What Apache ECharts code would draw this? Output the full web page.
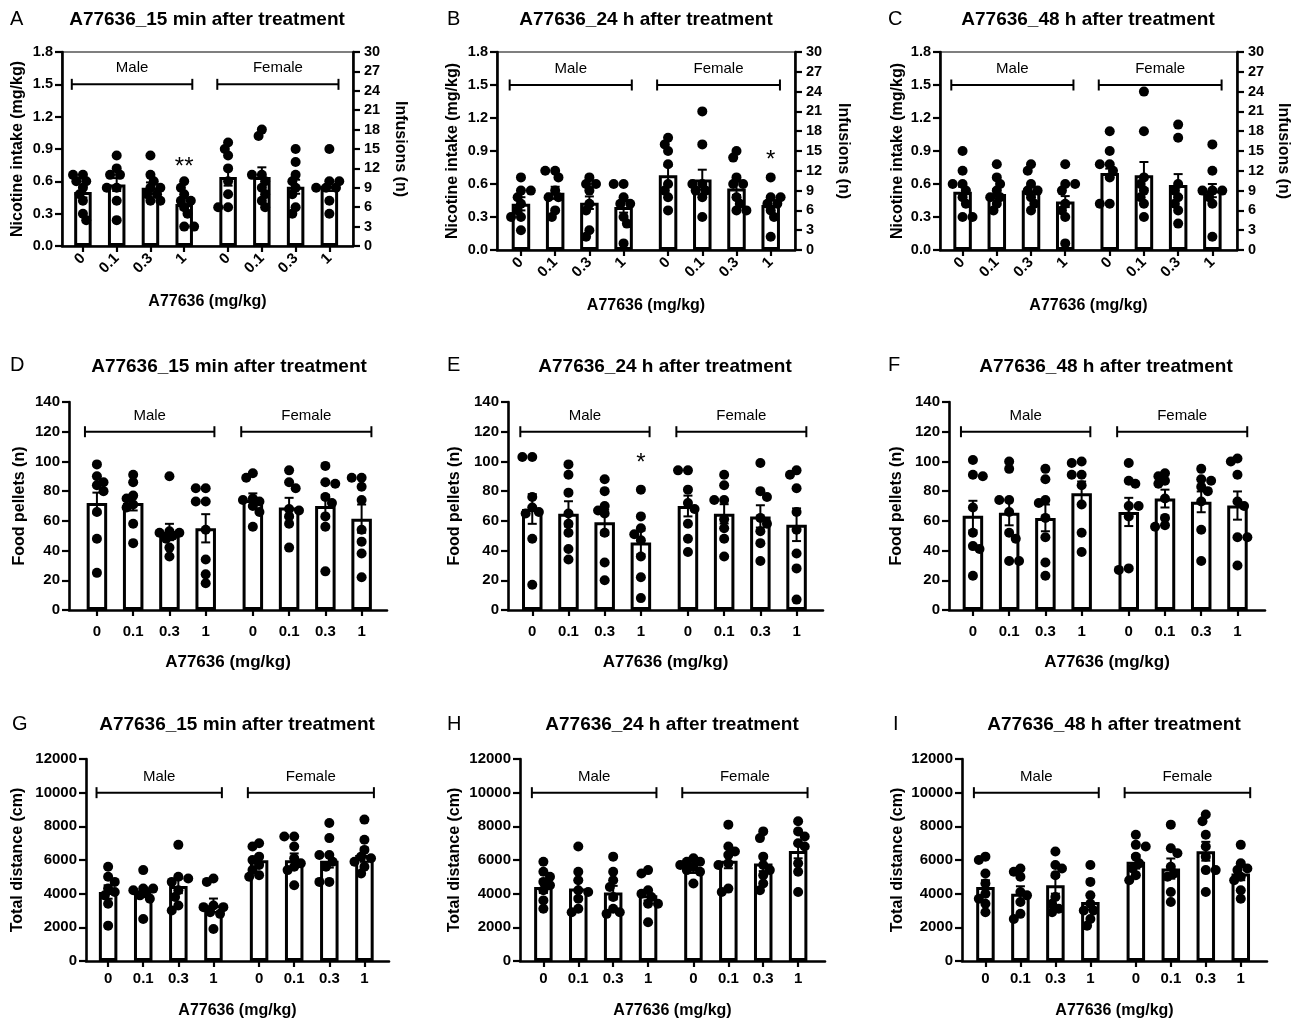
<!DOCTYPE html>
<html><head><meta charset="utf-8">
<script src="https://cdn.jsdelivr.net/npm/echarts@6/dist/echarts.min.js"></script>
<style>html,body{margin:0;padding:0;background:#fff}#c{width:1303px;height:1021px}</style>
</head><body><div id="c"></div>
<script>
// ---------------- DATA ----------------
const doseLabels = ['0','0.1','0.3','1','0','0.1','0.3','1'];
const groupPos = [0,1,2,3,4.3,5.3,6.3,7.3];
const sexLabels = ['Male','Female'];
const sexSpan = [[-0.33,3.24],[3.98,7.57]];
const xAxisName = 'A77636 (mg/kg)';
const panelTitles = ['A77636_15 min after treatment','A77636_24 h after treatment','A77636_48 h after treatment',
  'A77636_15 min after treatment','A77636_24 h after treatment','A77636_48 h after treatment',
  'A77636_15 min after treatment','A77636_24 h after treatment','A77636_48 h after treatment'];
const panelLetters = ['A','B','C','D','E','F','G','H','I'];
const rowYNames = ['Nicotine intake (mg/kg)','Food pellets (n)','Total distance (cm)'];
const rightYName = 'Infusions (n)';
const rowYMax = [1.8, 140, 12000];
const rowYInterval = [0.3, 20, 2000];
const rowBracketY = [1.5, 120, 10000];
const rightYMax = 30, rightYInterval = 3;

const A_mean = [0.50,0.57,0.54,0.39,0.64,0.64,0.55,0.56];
const A_sem  = [0.05,0.06,0.05,0.05,0.08,0.09,0.065,0.05];
const A_dots = [[0.66,0.66,0.60,0.60,0.54,0.48,0.42,0.30,0.24],[0.84,0.72,0.66,0.66,0.54,0.54,0.42,0.24],
  [0.84,0.66,0.60,0.54,0.54,0.48,0.48,0.42,0.42],[0.60,0.54,0.48,0.42,0.42,0.36,0.30,0.18,0.18],
  [0.96,0.90,0.84,0.72,0.60,0.48,0.36,0.36],[1.08,1.02,0.66,0.66,0.60,0.54,0.48,0.42,0.36],
  [0.90,0.78,0.66,0.60,0.54,0.48,0.36,0.30],[0.90,0.60,0.60,0.54,0.54,0.54,0.42,0.30]];
const A_stars = [['**',3,0.78]];

const B_mean = [0.42,0.52,0.43,0.39,0.68,0.64,0.56,0.41];
const B_sem  = [0.06,0.055,0.057,0.05,0.085,0.09,0.06,0.055];
const B_dots = [[0.66,0.54,0.54,0.48,0.42,0.36,0.30,0.30,0.18],[0.72,0.72,0.66,0.54,0.48,0.48,0.36,0.30],
  [0.66,0.60,0.60,0.54,0.42,0.36,0.18,0.12],[0.60,0.60,0.48,0.42,0.42,0.30,0.24,0.06],
  [1.02,0.96,0.90,0.78,0.60,0.54,0.48,0.36],[1.26,0.96,0.60,0.60,0.54,0.54,0.48,0.30],
  [0.90,0.84,0.66,0.60,0.60,0.48,0.42,0.36,0.36],[0.66,0.48,0.48,0.42,0.42,0.36,0.30,0.12]];
const B_stars = [['*',7,0.86]];

const C_mean = [0.53,0.51,0.54,0.44,0.70,0.68,0.59,0.54];
const C_sem  = [0.045,0.042,0.04,0.05,0.04,0.12,0.10,0.06];
const C_dots = [[0.90,0.72,0.60,0.60,0.54,0.48,0.42,0.30,0.30],[0.78,0.66,0.60,0.54,0.48,0.48,0.42,0.36],
  [0.78,0.72,0.60,0.54,0.54,0.48,0.42,0.36],[0.78,0.60,0.60,0.54,0.42,0.36,0.30,0.06],
  [1.08,0.90,0.78,0.78,0.72,0.66,0.42,0.42],[1.44,1.08,0.66,0.60,0.54,0.48,0.42,0.30],
  [1.14,1.02,0.60,0.54,0.48,0.42,0.36,0.24],[0.96,0.72,0.54,0.54,0.54,0.48,0.42,0.12]];
const C_stars = [];

const D_mean = [72,72,52.5,55,74,69,70,61.5];
const D_sem  = [7,5,5.5,9.5,4.5,6.5,7.5,9.5];
const D_dots = [[98,90,86,84,80,66,48,25],[91,86,77,75,71,69,58,45],[90,53,52,52,50,48,42,36],
  [82,82,73,73,54,34,24,18],[92,89,75,74,73,70,66,56],[94,86,82,68,67,63,58,42],
  [97,86,85,76,72,63,56,26],[89,89,83,74,54,46,38,22]];
const D_stars = [];

const E_mean = [68,64.7,59,45.5,70,64.7,63,57.4];
const E_sem  = [10,8.5,8.5,8,7,6.5,7.5,11];
const E_dots = [[103,103,76,69,66,65,48,17],[98,91,79,65,58,52,41,34],[88,80,70,67,65,52,32,20],
  [81,63,55,51,47,36,22,8],[94,94,81,72,68,58,48,39],[91,84,74,74,61,55,48,36],
  [99,80,76,62,58,53,45,33],[94,91,82,66,54,38,28,7]];
const E_stars = [['*',3,102]];

const F_mean = [63.5,65.5,62,78.5,66,75,72.8,70.3];
const F_sem  = [10,8.5,9,8,9.5,6,7,9.5];
const F_dots = [[101,91,90,69,52,43,41,23],[100,95,74,74,66,52,48,33,33],[95,88,74,72,62,49,32,23],
  [100,99,91,91,84,71,52,39],[99,87,85,70,70,63,28,27],[92,90,87,85,75,62,57,56],
  [95,88,87,83,80,73,54,33],[102,100,91,73,70,49,49,30]];
const F_stars = [];

const G_mean = [4100,4000,4460,3310,5990,5990,5950,6290];
const G_sem  = [400,200,430,400,250,400,400,400];
const G_dots = [[5600,5000,4700,4300,4100,3900,3400,2100],[5400,4300,4300,4200,4100,3900,3700,2500],
  [6900,5000,4900,4700,4200,3800,3300,3000],[4900,4700,3300,3200,3200,2900,2800,1900],
  [7000,6800,6200,6000,5700,5400,5100,5000],[7400,7400,6800,6100,5800,5600,5400,4500],
  [8200,7300,6300,6300,5900,5600,4700,4700],[8400,7200,6600,6200,6100,5900,5600,5200]];
const G_stars = [];

const H_mean = [4400,4300,4065,3900,5490,5950,5790,6540];
const H_sem  = [360,500,400,300,260,440,450,440];
const H_dots = [[5900,5300,5000,4700,4500,4200,3600,3100],[6800,5300,4800,4200,4100,3700,3100,2900],
  [6200,5300,4800,4400,3800,3100,2900,2800],[5400,5200,4200,4000,3800,3400,3400,2300],
  [6100,5900,5900,5700,5600,5400,5300,4600],[8100,6800,6500,6300,5800,5700,4300,4100],
  [7700,7300,6200,5700,5400,5100,4600,4200],[8300,7700,7400,7000,6800,5800,5300,4100]];
const H_stars = [];

const I_mean = [4400,4000,4500,3510,5890,5490,6520,5200];
const I_sem  = [400,440,500,450,400,600,560,400];
const I_dots = [[6200,6000,5200,4600,4000,3700,3400,2900],[5500,5300,5000,4100,3900,3500,2800,2500],
  [6500,5700,5500,5100,3800,3400,3100,2900],[5700,4700,3900,3400,3000,3000,2500,2100],
  [7500,6900,6800,6200,5800,5500,5100,4800],[8100,6700,6400,5600,5200,5000,4100,3500],
  [8700,8300,7500,6800,6200,5400,5400,4100],[6900,5800,5500,5400,5000,4800,4200,3700]];
const I_stars = [];

// ---------------- LAYOUT ----------------
const FONT = '"Liberation Sans", Arial, Helvetica, sans-serif';
const layouts = [
  {lx:10, ly:19, tx:207, ty:20, grid:{left:62,top:52,width:291,height:194}, xMin:-0.62, xMax:8.0, barW:17.5, yGap:36, rGap:39, xGap:48},
  {lx:447,ly:19, tx:646, ty:20, grid:{left:497,top:52,width:298,height:198}, xMin:-0.70, xMax:8.01, barW:18.5, yGap:36, rGap:40, xGap:48},
  {lx:888,ly:19, tx:1088,ty:20, grid:{left:940,top:52,width:297,height:198}, xMin:-0.66, xMax:8.02, barW:18.5, yGap:34, rGap:38, xGap:48},
  {lx:10, ly:365,tx:229, ty:367,grid:{left:69,top:402,width:318,height:208}, xMin:-0.77, xMax:8.0, barW:20.5, yGap:41, xGap:44},
  {lx:447,ly:365,tx:665, ty:367,grid:{left:508,top:402,width:315,height:208}, xMin:-0.67, xMax:8.03, barW:20.5, yGap:45, xGap:44},
  {lx:888,ly:365,tx:1106,ty:367,grid:{left:949,top:402,width:316,height:208}, xMin:-0.66, xMax:8.06, barW:20.5, yGap:44, xGap:44},
  {lx:12, ly:724,tx:237, ty:725,grid:{left:86,top:759,width:303,height:202}, xMin:-0.63, xMax:8.0, barW:18.5, yGap:60, xGap:42},
  {lx:447,ly:724,tx:672, ty:725,grid:{left:520,top:759,width:305,height:202}, xMin:-0.67, xMax:8.07, barW:18.5, yGap:57, xGap:42},
  {lx:893,ly:724,tx:1114,ty:725,grid:{left:962,top:759,width:305,height:202}, xMin:-0.67, xMax:8.05, barW:18.5, yGap:56, xGap:42}
];
const panelData = [
  [A_mean,A_sem,A_dots,A_stars],[B_mean,B_sem,B_dots,B_stars],[C_mean,C_sem,C_dots,C_stars],
  [D_mean,D_sem,D_dots,D_stars],[E_mean,E_sem,E_dots,E_stars],[F_mean,F_sem,F_dots,F_stars],
  [G_mean,G_sem,G_dots,G_stars],[H_mean,H_sem,H_dots,H_stars],[I_mean,I_sem,I_dots,I_stars]
];
const DOT = 10;

// compact beeswarm: keeps points near the bar centre, allows slight overlap
function spread(vals, pxX, pxY) {
  const placed = [];
  const out = new Array(vals.length);
  const order = vals.map((v, i) => i).sort((a, b) => vals[b] - vals[a]);
  const step = DOT * 0.33, maxSteps = 4, minD = DOT * 0.72;
  order.forEach((idx, k) => {
    const y = vals[idx] * pxY;
    const first = (k % 2 === 0) ? 1 : -1;
    const cands = [0];
    for (let s = 1; s <= maxSteps; s++) { cands.push(first * s * step, -first * s * step); }
    let best = null, bestD = -1;
    for (const ox of cands) {
      const d = placed.length ? Math.min(...placed.map(p => Math.hypot(p.ox - ox, p.y - y))) : 1e9;
      if (d >= minD) { best = ox; bestD = d; break; }
      if (d > bestD) { bestD = d; best = ox; }
    }
    placed.push({ ox: best, y });
    out[idx] = best / pxX;
  });
  return out;
}

const grids = [], xAxes = [], yAxes = [], series = [], graphics = [];
const black = '#000';

layouts.forEach((L, p) => {
  const row = Math.floor(p / 3);
  const [mean, sem, dots, stars] = panelData[p];
  grids.push(Object.assign({}, L.grid, row === 0 ? { show: true, borderColor: black, borderWidth: 1.2, backgroundColor: 'transparent' } : { show: false }));
  xAxes.push({
    gridIndex: p, type: 'value', min: L.xMin, max: L.xMax,
    axisLine: { show: true, onZero: false, lineStyle: { color: black, width: 2.6 } },
    axisTick: { show: true, customValues: groupPos, length: 6, lineStyle: { color: black, width: 2.2 } },
    axisLabel: {
      customValues: groupPos, rotate: row === 0 ? 45 : 0, margin: row === 0 ? 10 : (row === 1 ? 14 : 10),
      color: black, fontWeight: 'bold', fontSize: 15, fontFamily: FONT,
      formatter: v => { let bi = 0; groupPos.forEach((g, i) => { if (Math.abs(g - v) < Math.abs(groupPos[bi] - v)) bi = i; }); return doseLabels[bi]; }
    },
    splitLine: { show: false },
    name: xAxisName, nameLocation: 'middle', nameGap: L.xGap,
    nameTextStyle: { color: black, fontWeight: 'bold', fontSize: row === 1 ? 17 : 16, fontFamily: FONT }
  });
  const yIdx = yAxes.length;
  yAxes.push({
    gridIndex: p, type: 'value', position: 'left', min: 0, max: rowYMax[row], interval: rowYInterval[row],
    axisLine: { show: true, onZero: false, lineStyle: { color: black, width: 2.6 } },
    axisTick: { show: true, length: 7, lineStyle: { color: black, width: 2.2 } },
    axisLabel: { margin: 9, color: black, fontWeight: 'bold', fontSize: row === 0 ? 14.5 : 15, fontFamily: FONT,
      formatter: v => row === 0 ? v.toFixed(1) : String(Math.round(v)) },
    splitLine: { show: false },
    name: rowYNames[row], nameLocation: 'middle', nameGap: L.yGap, nameRotate: 90,
    nameTextStyle: { color: black, fontWeight: 'bold', fontSize: 16, fontFamily: FONT }
  });
  if (row === 0) {
    yAxes.push({
      gridIndex: p, type: 'value', position: 'right', min: 0, max: rightYMax, interval: rightYInterval,
      axisLine: { show: true, onZero: false, lineStyle: { color: black, width: 2.6 } },
      axisTick: { show: true, length: 7, lineStyle: { color: black, width: 2.2 } },
      axisLabel: { margin: 11, color: black, fontWeight: 'bold', fontSize: 14.5, fontFamily: FONT },
      splitLine: { show: false },
      name: rightYName, nameLocation: 'middle', nameGap: L.rGap, nameRotate: -90,
      nameTextStyle: { color: black, fontWeight: 'bold', fontSize: 16, fontFamily: FONT }
    });
  }
  // bars
  series.push({
    type: 'bar', xAxisIndex: p, yAxisIndex: yIdx, barWidth: L.barW, z: 2,
    data: mean.map((m, i) => [groupPos[i], m]),
    itemStyle: { color: '#fff', borderColor: black, borderWidth: 3 },
    emphasis: { disabled: true }
  });
  // error bars
  series.push({
    type: 'custom', xAxisIndex: p, yAxisIndex: yIdx, z: 3,
    data: mean.map((m, i) => [groupPos[i], m, sem[i]]),
    renderItem: (params, api) => {
      const x = api.value(0), m = api.value(1), s = api.value(2);
      const t = api.coord([x, m + s]), b = api.coord([x, m - s]);
      const cw = 4.5, st = { stroke: black, lineWidth: 2 };
      return { type: 'group', children: [
        { type: 'line', shape: { x1: t[0], y1: t[1], x2: b[0], y2: b[1] }, style: st },
        { type: 'line', shape: { x1: t[0] - cw, y1: t[1], x2: t[0] + cw, y2: t[1] }, style: st },
        { type: 'line', shape: { x1: b[0] - cw, y1: b[1], x2: b[0] + cw, y2: b[1] }, style: st }
      ] };
    }
  });
  // dots
  const pxX = L.grid.width / (L.xMax - L.xMin), pxY = L.grid.height / rowYMax[row];
  const pts = [];
  dots.forEach((vals, gi) => {
    const off = spread(vals, pxX, pxY);
    vals.forEach((v, k) => pts.push([groupPos[gi] + off[k], v]));
  });
  series.push({
    type: 'scatter', xAxisIndex: p, yAxisIndex: yIdx, z: 4, symbol: 'circle', symbolSize: DOT,
    data: pts, itemStyle: { color: black, opacity: 1 }, emphasis: { disabled: true }
  });
  // sex brackets
  series.push({
    type: 'custom', xAxisIndex: p, yAxisIndex: yIdx, z: 5,
    data: sexSpan.map((s, i) => [s[0], s[1], rowBracketY[row], i]),
    renderItem: (params, api) => {
      const a = api.coord([api.value(0), api.value(2)]), b = api.coord([api.value(1), api.value(2)]);
      const st = { stroke: black, lineWidth: 2 }, h = 5.5;
      return { type: 'group', children: [
        { type: 'line', shape: { x1: a[0], y1: a[1], x2: b[0], y2: b[1] }, style: st },
        { type: 'line', shape: { x1: a[0], y1: a[1] - h, x2: a[0], y2: a[1] + h }, style: st },
        { type: 'line', shape: { x1: b[0], y1: b[1] - h, x2: b[0], y2: b[1] + h }, style: st },
        { type: 'text', x: (a[0] + b[0]) / 2, y: a[1] - 16,
          style: { text: sexLabels[api.value(3)], fill: black, font: '15px ' + FONT, align: 'center', verticalAlign: 'middle' } }
      ] };
    }
  });
  // significance stars
  if (stars.length) {
    series.push({
      type: 'custom', xAxisIndex: p, yAxisIndex: yIdx, z: 6,
      data: stars.map(s => [groupPos[s[1]], s[2]]),
      renderItem: (params, api) => {
        const c = api.coord([api.value(0), api.value(1)]);
        const txt = stars[params.dataIndex][0];
        return { type: 'text', x: c[0], y: c[1] + 5,
          style: { text: txt, fill: black, font: '24px ' + FONT, align: 'center', verticalAlign: 'middle' } };
      }
    });
  }
  graphics.push({ type: 'text', x: L.lx, y: L.ly, style: { text: panelLetters[p], fill: black, font: '20px ' + FONT, align: 'left', verticalAlign: 'middle' } });
  graphics.push({ type: 'text', x: L.tx, y: L.ty, style: { text: panelTitles[p], fill: black, font: 'bold 19px ' + FONT, align: 'center', verticalAlign: 'middle' } });
});

const chart = echarts.init(document.getElementById('c'), null, { renderer: 'canvas' });
chart.setOption({
  backgroundColor: '#fff', animation: false,
  grid: grids, xAxis: xAxes, yAxis: yAxes, series: series, graphic: graphics
});
</script></body></html>
